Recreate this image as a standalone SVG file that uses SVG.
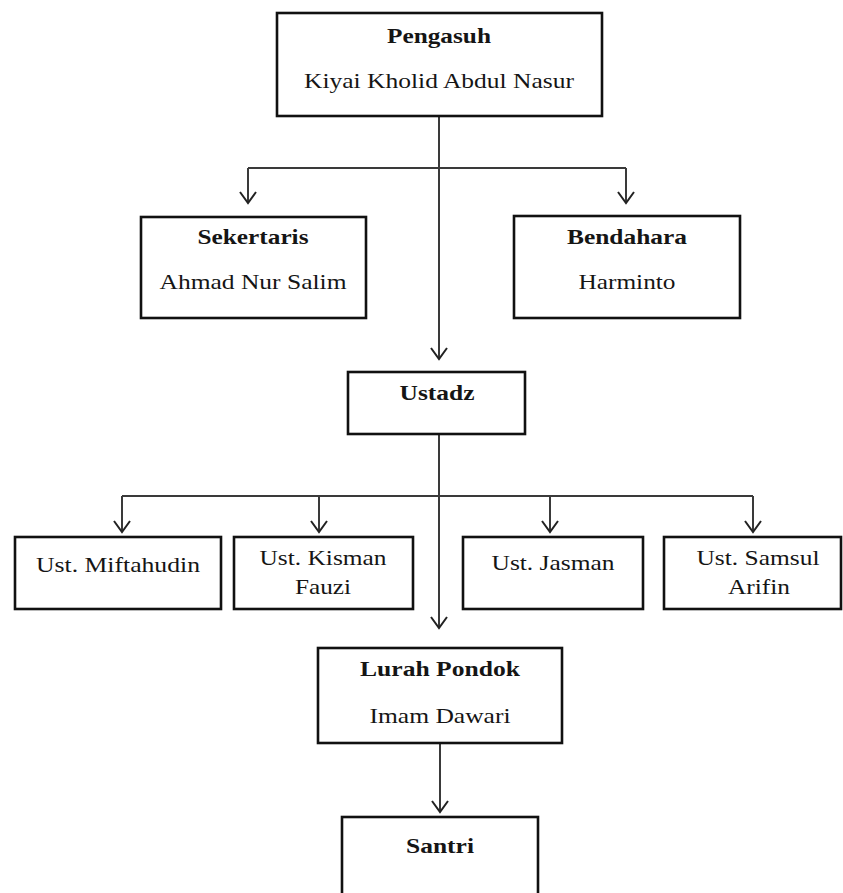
<svg xmlns="http://www.w3.org/2000/svg" width="843" height="893" viewBox="0 0 843 893">
<style>
.box{fill:#fff;stroke:#111;stroke-width:2.6}
.t{font-family:"Liberation Serif","Times New Roman",serif;font-size:22px;fill:#151515;text-anchor:middle}
.b{font-weight:bold}
.ln{fill:none;stroke:#3a3a3a;stroke-width:2}
</style>
<defs>
<marker id="ah" markerUnits="userSpaceOnUse" markerWidth="30" markerHeight="30" viewBox="-15 -15 30 30" refX="0" refY="0" orient="auto" overflow="visible">
<path d="M-11,-8 L0,0 L-11,8" fill="none" stroke="#222" stroke-width="2"/>
</marker>
</defs>
<rect width="843" height="893" fill="#fff"/>
<g id="connectors">
<path class="ln" d="M439,116 V359" marker-end="url(#ah)"/>
<path class="ln" d="M248,168 H626"/>
<path class="ln" d="M248,168 V203" marker-end="url(#ah)"/>
<path class="ln" d="M626,168 V203" marker-end="url(#ah)"/>
<path class="ln" d="M439,434 V628" marker-end="url(#ah)"/>
<path class="ln" d="M122,496 H753"/>
<path class="ln" d="M122,496 V532" marker-end="url(#ah)"/>
<path class="ln" d="M319,496 V532" marker-end="url(#ah)"/>
<path class="ln" d="M550,496 V532" marker-end="url(#ah)"/>
<path class="ln" d="M753,496 V532" marker-end="url(#ah)"/>
<path class="ln" d="M440,743 V812" marker-end="url(#ah)"/>
</g>
<g id="pengasuh">
<rect class="box" x="277" y="13" width="325" height="103"/>
<text class="t b" x="439" y="43" textLength="104" lengthAdjust="spacingAndGlyphs">Pengasuh</text>
<text class="t" x="439" y="88" textLength="270" lengthAdjust="spacingAndGlyphs">Kiyai Kholid Abdul Nasur</text>
</g>
<g id="sekertaris">
<rect class="box" x="141" y="217" width="225" height="101"/>
<text class="t b" x="253" y="244" textLength="111" lengthAdjust="spacingAndGlyphs">Sekertaris</text>
<text class="t" x="253" y="289" textLength="187" lengthAdjust="spacingAndGlyphs">Ahmad Nur Salim</text>
</g>
<g id="bendahara">
<rect class="box" x="514" y="216" width="226" height="102"/>
<text class="t b" x="627" y="244" textLength="120" lengthAdjust="spacingAndGlyphs">Bendahara</text>
<text class="t" x="627" y="289" textLength="97" lengthAdjust="spacingAndGlyphs">Harminto</text>
</g>
<g id="ustadz">
<rect class="box" x="348" y="372" width="177" height="62"/>
<text class="t b" x="437" y="400" textLength="75" lengthAdjust="spacingAndGlyphs">Ustadz</text>
</g>
<g id="miftahudin">
<rect class="box" x="15" y="537" width="206" height="72"/>
<text class="t" x="118" y="572" textLength="164" lengthAdjust="spacingAndGlyphs">Ust. Miftahudin</text>
</g>
<g id="kisman">
<rect class="box" x="234" y="537" width="179" height="72"/>
<text class="t" x="323" y="565" textLength="127" lengthAdjust="spacingAndGlyphs">Ust. Kisman</text>
<text class="t" x="323" y="594" textLength="56" lengthAdjust="spacingAndGlyphs">Fauzi</text>
</g>
<g id="jasman">
<rect class="box" x="463" y="537" width="180" height="72"/>
<text class="t" x="553" y="570" textLength="123" lengthAdjust="spacingAndGlyphs">Ust. Jasman</text>
</g>
<g id="samsul">
<rect class="box" x="664" y="537" width="177" height="72"/>
<text class="t" x="758" y="565" textLength="123" lengthAdjust="spacingAndGlyphs">Ust. Samsul</text>
<text class="t" x="759" y="594" textLength="62" lengthAdjust="spacingAndGlyphs">Arifin</text>
</g>
<g id="lurah">
<rect class="box" x="318" y="648" width="244" height="95"/>
<text class="t b" x="440" y="676" textLength="160" lengthAdjust="spacingAndGlyphs">Lurah Pondok</text>
<text class="t" x="440" y="723" textLength="141" lengthAdjust="spacingAndGlyphs">Imam Dawari</text>
</g>
<g id="santri">
<rect class="box" x="342" y="817" width="196" height="90"/>
<text class="t b" x="440" y="853" textLength="68" lengthAdjust="spacingAndGlyphs">Santri</text>
</g>
</svg>
